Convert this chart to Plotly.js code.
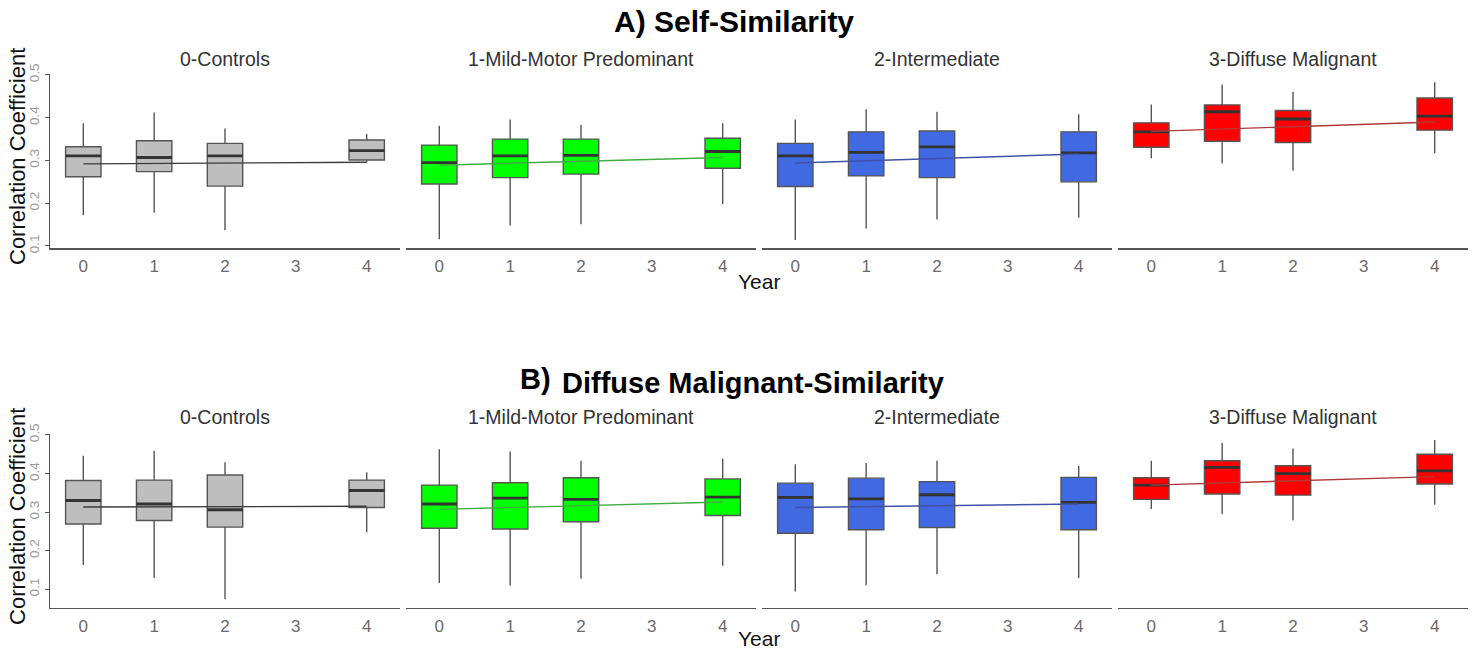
<!DOCTYPE html>
<html>
<head>
<meta charset="utf-8">
<script src="https://cdn.plot.ly/plotly-3.0.1.min.js"></script>
<style>
  html, body { margin: 0; padding: 0; background: #fff; }
  #chart { width: 1478px; height: 654px; }
</style>
</head>
<body>
<div id="chart"></div>
<script>
// ---------------- DATA ----------------
const years = [0, 1, 2, 4];
const trendYears = [0, 4];
const groups = ['0-Controls', '1-Mild-Motor Predominant', '2-Intermediate', '3-Diffuse Malignant'];
const xTickVals = [0, 1, 2, 3, 4];
const yTickVals = [0.1, 0.2, 0.3, 0.4, 0.5];

// Panel A: Self-Similarity (one row per group: Controls, Mild, Intermediate, Diffuse)
const selfLow  = [[0.172, 0.178, 0.137, 0.297], [0.116, 0.148, 0.151, 0.198], [0.114, 0.141, 0.162, 0.166], [0.305, 0.293, 0.276, 0.317]];
const selfQ1   = [[0.262, 0.274, 0.240, 0.301], [0.245, 0.260, 0.268, 0.282], [0.239, 0.264, 0.260, 0.250], [0.331, 0.345, 0.342, 0.371]];
const selfMed  = [[0.311, 0.307, 0.311, 0.323], [0.295, 0.311, 0.312, 0.321], [0.311, 0.319, 0.332, 0.318], [0.367, 0.414, 0.397, 0.404]];
const selfQ3   = [[0.332, 0.346, 0.340, 0.348], [0.336, 0.350, 0.350, 0.352], [0.340, 0.367, 0.369, 0.367], [0.388, 0.430, 0.417, 0.446]];
const selfHigh = [[0.387, 0.412, 0.375, 0.362], [0.381, 0.396, 0.383, 0.387], [0.396, 0.420, 0.414, 0.408], [0.431, 0.478, 0.461, 0.483]];
const selfTrend = [[0.292, 0.296], [0.289, 0.307], [0.294, 0.315], [0.368, 0.390]];

// Panel B: Diffuse Malignant-Similarity
const dmLow  = [[0.163, 0.129, 0.074, 0.248], [0.116, 0.109, 0.127, 0.161], [0.094, 0.110, 0.139, 0.129], [0.308, 0.295, 0.278, 0.319]];
const dmQ1   = [[0.269, 0.278, 0.261, 0.312], [0.258, 0.256, 0.275, 0.291], [0.245, 0.254, 0.260, 0.254], [0.333, 0.347, 0.344, 0.373]];
const dmMed  = [[0.330, 0.321, 0.306, 0.356], [0.321, 0.336, 0.333, 0.339], [0.338, 0.334, 0.345, 0.325], [0.370, 0.416, 0.400, 0.407]];
const dmQ3   = [[0.382, 0.383, 0.396, 0.383], [0.370, 0.376, 0.389, 0.386], [0.375, 0.388, 0.379, 0.390], [0.389, 0.433, 0.420, 0.450]];
const dmHigh = [[0.446, 0.459, 0.429, 0.403], [0.463, 0.457, 0.433, 0.439], [0.424, 0.427, 0.433, 0.420], [0.433, 0.480, 0.465, 0.487]];
const dmTrend = [[0.313, 0.315], [0.307, 0.326], [0.312, 0.321], [0.370, 0.392]];

// ---------------- STYLE ----------------
const fillColors  = ['#bebebe', '#00ff00', '#4169e1', '#ff0000'];
const trendColors = ['#3a3a3a', '#3fae3f', '#4052a8', '#b03a3a'];
const boxWidth = 0.5;
const FONT = 'Liberation Sans, Arial, sans-serif';

const W = 1478, H = 654;
const colPx = [[50, 400], [406, 756], [762, 1112], [1118, 1468]];
const rowPx = [[74, 248], [434.2, 607.7]];
const rowRange = [[0.0953, 0.5023], [0.052, 0.502]];

const panels = [
  {low: selfLow, q1: selfQ1, med: selfMed, q3: selfQ3, high: selfHigh, trend: selfTrend},
  {low: dmLow, q1: dmQ1, med: dmMed, q3: dmQ3, high: dmHigh, trend: dmTrend}
];

const traces = [];
const layout = {
  width: W, height: H,
  margin: {l: 0, r: 0, t: 0, b: 0},
  paper_bgcolor: '#fff', plot_bgcolor: '#fff',
  showlegend: false,
  font: {family: FONT},
  annotations: []
};

let idx = 0;
panels.forEach((p, r) => {
  groups.forEach((g, c) => {
    idx++;
    const xa = 'x' + (idx === 1 ? '' : idx);
    const ya = 'y' + (idx === 1 ? '' : idx);
    const xKey = 'xaxis' + (idx === 1 ? '' : idx);
    const yKey = 'yaxis' + (idx === 1 ? '' : idx);

    traces.push({
      type: 'box', xaxis: xa, yaxis: ya,
      x: years,
      q1: p.q1[c], median: p.med[c], q3: p.q3[c],
      lowerfence: p.low[c], upperfence: p.high[c],
      width: boxWidth, whiskerwidth: 0,
      boxpoints: false,
      fillcolor: fillColors[c],
      line: {color: '#555555', width: 1.4},
      hoverinfo: 'skip'
    });

    // thicker median segments (ggplot fatten)
    const mx = [], my = [];
    years.forEach((yr, i) => {
      mx.push(yr - boxWidth / 2, yr + boxWidth / 2, null);
      my.push(p.med[c][i], p.med[c][i], null);
    });
    traces.push({
      type: 'scatter', mode: 'lines', xaxis: xa, yaxis: ya,
      x: mx, y: my, line: {color: '#333333', width: 2.8}, hoverinfo: 'skip'
    });

    // linear trend
    traces.push({
      type: 'scatter', mode: 'lines', xaxis: xa, yaxis: ya,
      x: trendYears, y: p.trend[c],
      line: {color: trendColors[c], width: 1.4}, hoverinfo: 'skip'
    });

    layout[xKey] = {
      domain: [colPx[c][0] / W, colPx[c][1] / W],
      anchor: ya,
      range: [-0.47, 4.47],
      tickvals: xTickVals,
      ticks: 'outside', ticklen: 2, tickcolor: 'rgba(0,0,0,0)',
      tickfont: {size: 17, color: '#6a6a6a', family: FONT},
      showline: true, linecolor: '#555555', linewidth: 1.5,
      showgrid: false, zeroline: false, fixedrange: true
    };
    layout[yKey] = {
      domain: [1 - rowPx[r][1] / H, 1 - rowPx[r][0] / H],
      anchor: xa,
      range: rowRange[r],
      tickvals: yTickVals,
      ticktext: yTickVals.map(v => v.toFixed(1)),
      showticklabels: c === 0,
      tickangle: -90,
      ticks: c === 0 ? 'outside' : '', ticklen: 4, tickcolor: '#555555',
      tickfont: {size: 13.5, color: '#9a9a9a', family: FONT},
      showline: c === 0, linecolor: '#555555', linewidth: 1.5,
      showgrid: false, zeroline: false, fixedrange: true
    };

    // facet strip label
    layout.annotations.push({
      xref: 'paper', yref: 'paper',
      x: ((colPx[c][0] + colPx[c][1]) / 2) / W,
      y: 1 - (r === 0 ? 59 : 417) / H,
      text: g, showarrow: false, xanchor: 'center', yanchor: 'middle',
      font: {size: 19.5, color: '#333333', family: FONT}
    });
  });

  // y-axis title
  layout.annotations.push({
    xref: 'paper', yref: 'paper',
    x: 18 / W, y: 1 - ((rowPx[r][0] + rowPx[r][1]) / 2 - 4) / H,
    text: 'Correlation Coefficient', textangle: -90, showarrow: false,
    xanchor: 'center', yanchor: 'middle',
    font: {size: 22, color: '#111111', family: FONT}
  });
  // x-axis title
  layout.annotations.push({
    xref: 'paper', yref: 'paper',
    x: 759 / W, y: 1 - (r === 0 ? 281 : 638) / H,
    text: 'Year', showarrow: false, xanchor: 'center', yanchor: 'middle',
    font: {size: 21, color: '#111111', family: FONT}
  });
});

// main titles
layout.annotations.push({
  xref: 'paper', yref: 'paper', x: 734 / W, y: 1 - 22 / H,
  text: '<b>A) Self-Similarity</b>', showarrow: false, xanchor: 'center', yanchor: 'middle',
  font: {size: 30, color: '#000000', family: FONT}
});
layout.annotations.push({
  xref: 'paper', yref: 'paper', x: 553 / W, y: 1 - 379 / H,
  text: '<b>B)</b>', showarrow: false, xanchor: 'right', yanchor: 'middle',
  font: {size: 29, color: '#000000', family: FONT}
});
layout.annotations.push({
  xref: 'paper', yref: 'paper', x: 560 / W, y: 1 - 383 / H,
  text: '<b>Diffuse Malignant-Similarity</b>', showarrow: false, xanchor: 'left', yanchor: 'middle',
  font: {size: 29, color: '#000000', family: FONT}
});

Plotly.newPlot('chart', traces, layout, {staticPlot: true, displayModeBar: false});
</script>
</body>
</html>
